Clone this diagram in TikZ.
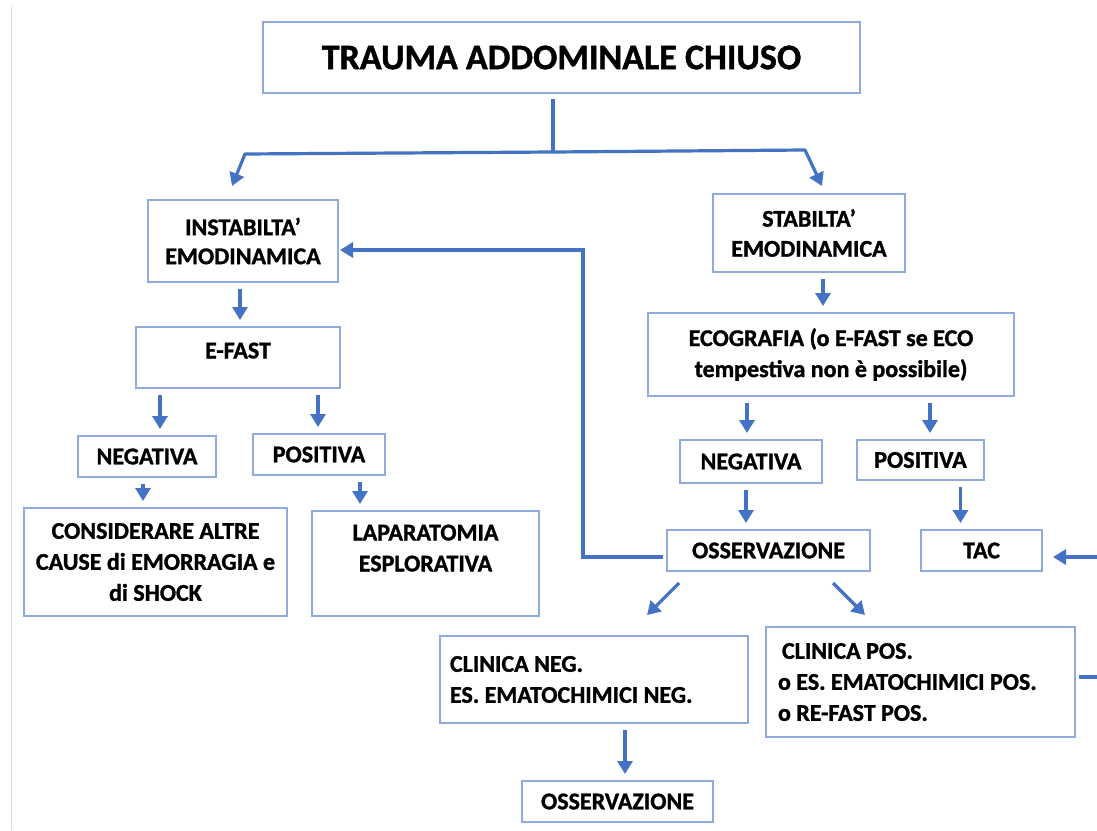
\documentclass[tikz,border=0pt]{standalone}
\usepackage{fontspec}
\setmainfont{Carlito}[BoldFeatures={FakeBold=1.2}]
\usetikzlibrary{arrows.meta}
\definecolor{boxblue}{HTML}{8FAADC}
\definecolor{arrowblue}{HTML}{4472C4}
\definecolor{edgegray}{HTML}{D3DCEF}

\begin{document}
\begin{tikzpicture}[x=1pt, y=-1pt, >={Triangle[length=13pt,width=15pt]},
  box/.style={draw=boxblue, line width=2pt, fill=white, inner sep=0pt, align=center,
    font=\fontsize{24}{31}\selectfont\bfseries},
  conn/.style={->, draw=arrowblue, line width=3.2pt},
  down/.style={conn, shorten <=6pt, shorten >=6pt}]
\useasboundingbox (0,0) rectangle (1097,830);
\clip (0,0) rectangle (1097,830);
% faint edge line on the left
\draw[edgegray, line width=1pt] (11,7) -- (11,830);

% ===== title =====
\node[box, minimum width=597pt, minimum height=71pt, font=\fontsize{36}{40}\selectfont\bfseries]
  (title) at (561.5,57.5) {TRAUMA ADDOMINALE CHIUSO};

% split into the two branches
\coordinate (split) at (553,152);
\coordinate (kneeL) at (245,154);
\coordinate (kneeR) at (805,150);
\coordinate (tipL) at (232,186);
\coordinate (tipR) at (822,186);
\draw[conn, -] ([yshift=-5pt]title.south -| split) -- (split);
\draw[conn, line join=round] (split) -- (kneeL) -- (tipL);
\draw[conn, line join=round] (split) -- (kneeR) -- (tipR);

% ===== LEFT branch =====
\node[box, minimum width=190pt, minimum height=82pt, font=\fontsize{24}{29}\selectfont\bfseries]
  (instab) at (243,241) {INSTABILTA’\\EMODINAMICA};
\node[box, minimum width=204pt, minimum height=61pt, text depth=14pt] (efast) at (238,357.5) {E-FAST};
\node[box, minimum width=138pt, minimum height=41pt] (negL) at (147,456.5) {NEGATIVA};
\node[box, minimum width=132pt, minimum height=41pt] (posL) at (319,454.5) {POSITIVA};
\node[box, minimum width=263pt, minimum height=108pt] (consid) at (155.5,562)
  {CONSIDERARE ALTRE\\CAUSE di EMORRAGIA e\\di SHOCK};
\node[box, minimum width=227pt, minimum height=105pt] (lapar) at (425.5,563.5)
  {LAPARATOMIA\\ESPLORATIVA\\~};

\draw[down] ([xshift=-3pt]instab.south) -- ([xshift=-3pt]instab.south |- efast.north);
\draw[down] ([xshift=-78pt]efast.south) -- ([xshift=-78pt]efast.south |- negL.north);
\draw[down] ([xshift=80pt]efast.south) -- ([xshift=80pt]efast.south |- posL.north);
\draw[down] ([xshift=-4pt]negL.south) -- ([xshift=-4pt]negL.south |- consid.north);
\draw[down] ([xshift=41pt]posL.south) -- ([xshift=41pt]posL.south |- lapar.north);

% ===== RIGHT branch =====
\node[box, minimum width=192pt, minimum height=78pt, font=\fontsize{24}{30}\selectfont\bfseries]
  (stab) at (809,233) {STABILTA’\\EMODINAMICA};
\node[box, minimum width=366pt, minimum height=83pt] (eco) at (831,354.5)
  {ECOGRAFIA (o E-FAST se ECO\\tempestiva non è possibile)};
\node[box, minimum width=142pt, minimum height=43pt] (negR) at (751,461.5) {NEGATIVA};
\node[box, minimum width=127pt, minimum height=40pt] (posR) at (920.5,460) {POSITIVA};
\node[box, minimum width=203pt, minimum height=41pt] (osserv) at (768.5,550.5) {OSSERVAZIONE};
\node[box, minimum width=121pt, minimum height=41pt] (tac) at (981.5,550.5) {TAC};

\draw[down] ([xshift=14pt]stab.south) -- ([xshift=14pt]stab.south |- eco.north);
\draw[down] ([xshift=-84pt]eco.south) -- ([xshift=-84pt]eco.south |- negR.north);
\draw[down] ([xshift=99pt]eco.south) -- ([xshift=99pt]eco.south |- posR.north);
\draw[down] ([xshift=-5pt]negR.south) -- ([xshift=-5pt]negR.south |- osserv.north);
\draw[down] ([xshift=40pt]posR.south) -- ([xshift=40pt]posR.south |- tac.north);

% back to INSTABILTA'
\coordinate (loopB) at (583,557);
\coordinate (loopT) at (583,250);
\draw[conn, shorten <=3pt, shorten >=1pt] (osserv.west |- loopB) -- (loopB) -- (loopT) -- (instab.east |- loopT);

% ===== after OSSERVAZIONE =====
\node[box, minimum width=308pt, minimum height=87pt, text width=288pt, align=flush left] (clinneg) at (594,679.5)
  {CLINICA NEG.\\ES. EMATOCHIMICI NEG.};
\node[box, minimum width=309pt, minimum height=110pt, text width=285pt, align=flush left] (clinpos) at (920.5,682)
  {\hspace{4pt}CLINICA POS.\\o ES. EMATOCHIMICI POS.\\o RE-FAST POS.};
\node[box, minimum width=191pt, minimum height=41pt] (osserv2) at (617.5,801.5) {OSSERVAZIONE};

\draw[conn] (osserv.south west) ++(13,11) -- ++(-32,32);
\draw[conn] (osserv.south east) ++(-38,11) -- ++(32,32);
\draw[down] ([xshift=31pt]clinneg.south) -- ([xshift=31pt]clinneg.south |- osserv2.north);

% CLINICA POS. back to TAC (runs off the right edge)
\coordinate (outB) at (1115,677);
\coordinate (outT) at (1115,557);
\draw[conn, shorten <=3pt, shorten >=10pt] (clinpos.east |- outB) -- (outB) -- (outT) -- (tac.east |- outT);
\end{tikzpicture}
\end{document}
